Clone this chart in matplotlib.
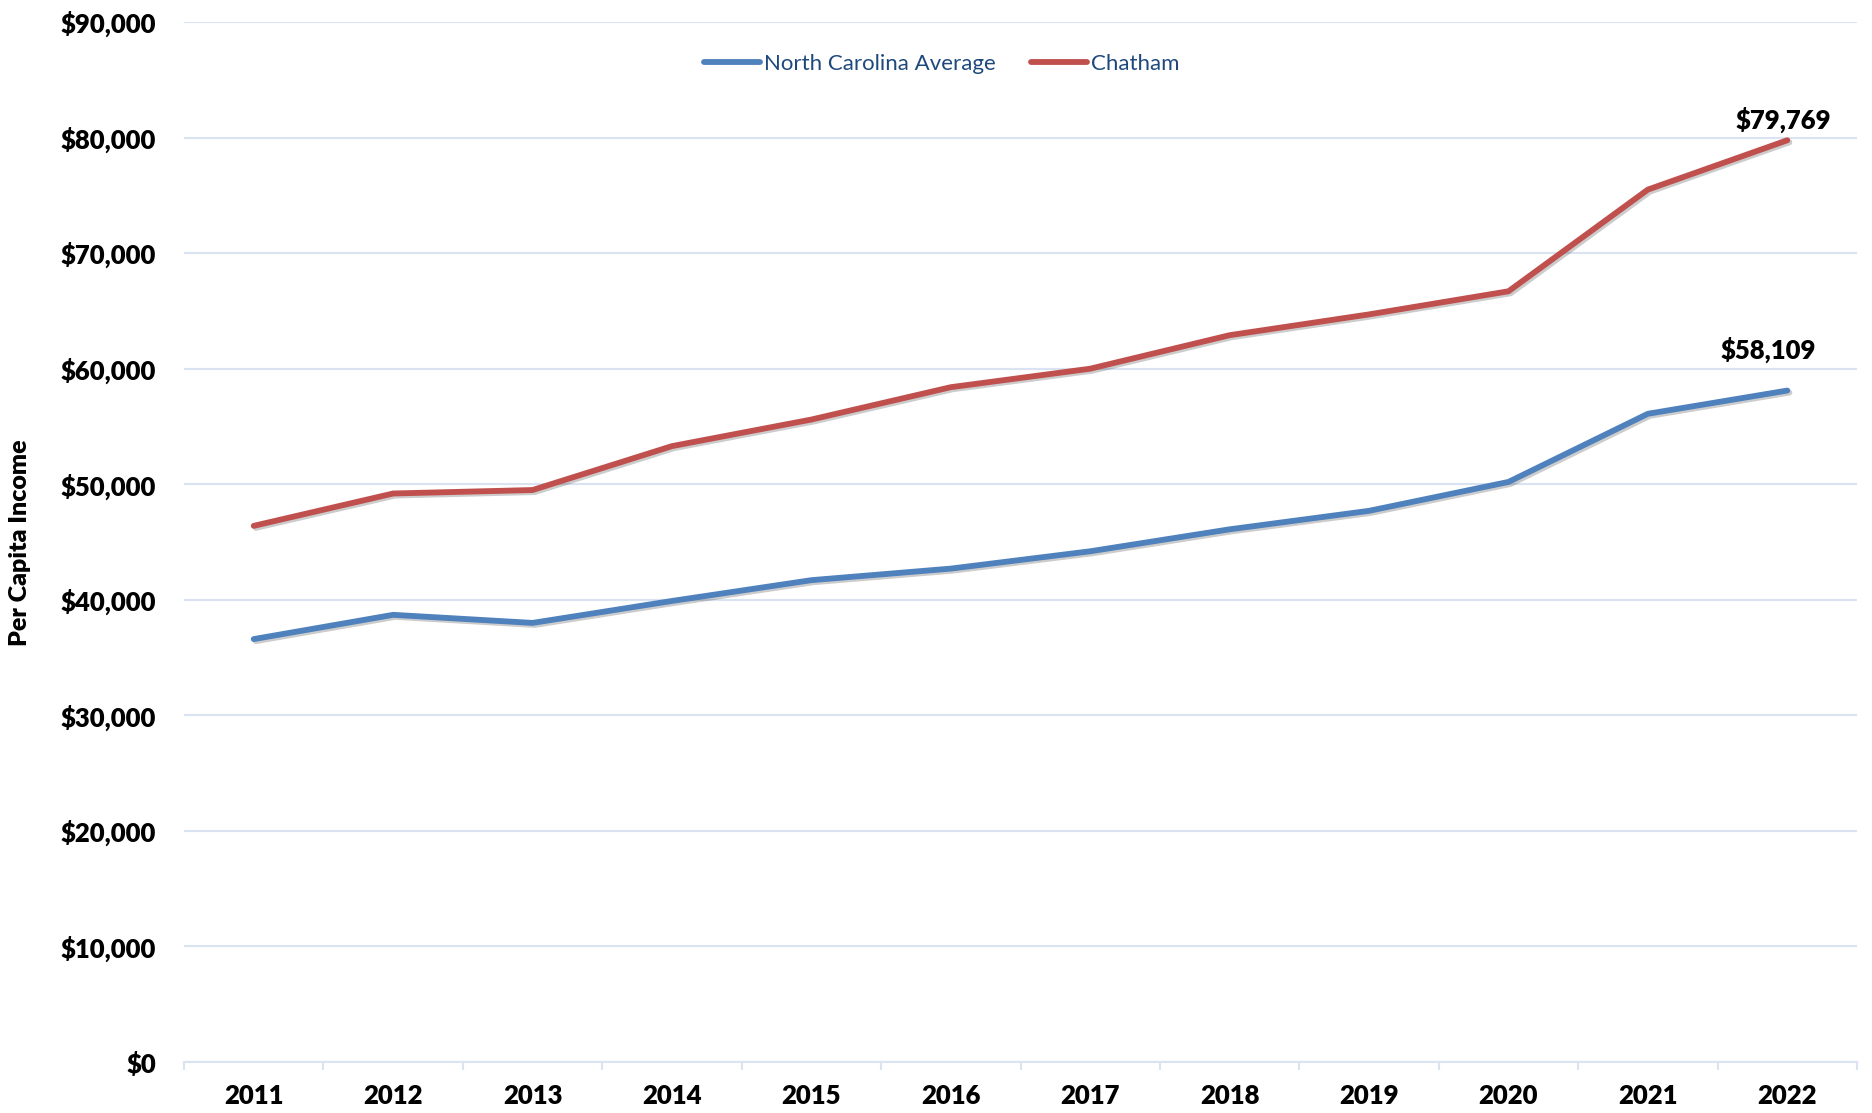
import matplotlib.pyplot as plt
import matplotlib.patheffects as pe
from matplotlib.ticker import FuncFormatter, FixedLocator

plt.rcParams['font.family'] = ['Lato', 'DejaVu Sans']

years = ['2011', '2012', '2013', '2014', '2015', '2016',
         '2017', '2018', '2019', '2020', '2021', '2022']
nc_avg = [36600, 38700, 38000, 39900, 41700, 42700,
          44200, 46100, 47700, 50200, 56100, 58109]
chatham = [46400, 49200, 49500, 53300, 55600, 58400,
           60000, 62900, 64700, 66700, 75500, 79769]

blue = '#4F81BD'
red = '#C0504D'
grid_col = '#D9E3F1'

fig = plt.figure(figsize=(18.72, 11.13), dpi=100)
ax = fig.add_axes([0.0983, 0.0458, 0.8937, 0.9344])

x = list(range(len(years)))
shadow = [pe.SimpleLineShadow(offset=(1.5, -1.5), alpha=0.2), pe.Normal()]
ax.plot(x, nc_avg, color=blue, lw=4.2, solid_capstyle='round',
        label='North Carolina Average', path_effects=shadow, zorder=3)
ax.plot(x, chatham, color=red, lw=4.2, solid_capstyle='round',
        label='Chatham', path_effects=shadow, zorder=3)

ax.set_xlim(-0.5, len(years) - 0.5)
ax.set_ylim(0, 90000)
ax.set_yticks(range(0, 90001, 10000))
ax.yaxis.set_major_formatter(FuncFormatter(lambda v, p: '${:,.0f}'.format(v)))
ax.set_xticks(x)
ax.set_xticklabels(years)
ax.xaxis.set_minor_locator(FixedLocator([i - 0.5 for i in range(len(years) + 1)]))

ax.grid(axis='y', color=grid_col, lw=1.5, zorder=0)
for s in ['top', 'right', 'left']:
    ax.spines[s].set_visible(False)
ax.spines['bottom'].set_color(grid_col)
ax.spines['bottom'].set_linewidth(1.5)

ax.tick_params(axis='y', length=0, pad=20, labelsize=18.5)
ax.tick_params(axis='x', which='major', length=0, pad=16, labelsize=18.5)
ax.tick_params(axis='x', which='minor', length=6, width=1.5, color=grid_col)
for lab in ax.get_xticklabels() + ax.get_yticklabels():
    lab.set_fontweight('heavy')

fig.text(0.0107, 0.512, 'Per Capita Income', rotation=90, fontsize=18,
         fontweight='heavy', ha='center', va='center')

ax.annotate('${:,}'.format(chatham[-1]), (x[-1], chatham[-1]),
            xytext=(-4, 7), textcoords='offset pixels', ha='center', va='bottom',
            fontsize=18.5, fontweight='heavy')
ax.annotate('${:,}'.format(nc_avg[-1]), (x[-1], nc_avg[-1]),
            xytext=(-19, 28), textcoords='offset pixels', ha='center', va='bottom',
            fontsize=18.5, fontweight='heavy')

leg = ax.legend(loc='center', bbox_to_anchor=(0.453, 0.96), ncol=2, frameon=False,
                fontsize=16, handlelength=2.5, handletextpad=0.2, columnspacing=1.6)
for t in leg.get_texts():
    t.set_color('#1F497D')
for h in leg.get_lines():
    h.set_linewidth(4.2)
    h.set_path_effects([])

fig.savefig('out.png', dpi=100)
